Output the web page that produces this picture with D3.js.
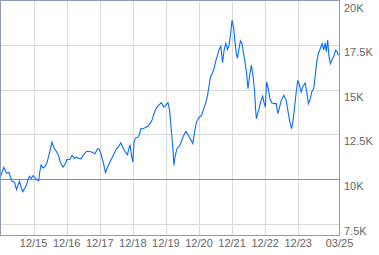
<!DOCTYPE html>
<html><head><meta charset="utf-8">
<script src="https://cdn.jsdelivr.net/npm/d3@7"></script>
<style>body{margin:0;background:#fff}svg{display:block}</style>
</head><body><svg id="c" width="379" height="255"></svg>
<script>
// Dates as decimal years, values in index points
const dates = [2014.917,2015.016,2015.059,2015.098,2015.167,2015.218,2015.269,2015.339,2015.399,2015.438,2015.489,2015.540,2015.589,2015.649,2015.700,2015.739,2015.790,2015.842,2015.902,2015.950,2016.001,2016.071,2016.101,2016.143,2016.203,2016.272,2016.324,2016.402,2016.474,2016.522,2016.604,2016.673,2016.724,2016.805,2016.875,2016.926,2017.004,2017.077,2017.146,2017.206,2017.275,2017.348,2017.426,2017.507,2017.607,2017.688,2017.769,2017.848,2017.899,2017.950,2018.019,2018.088,2018.149,2018.221,2018.321,2018.420,2018.492,2018.553,2018.622,2018.691,2018.751,2018.793,2018.833,2018.872,2018.914,2018.953,2018.992,2019.074,2019.125,2019.155,2019.224,2019.293,2019.375,2019.456,2019.504,2019.555,2019.625,2019.697,2019.775,2019.857,2019.926,2019.977,2020.028,2020.076,2020.128,2020.158,2020.197,2020.257,2020.339,2020.438,2020.519,2020.640,2020.730,2020.790,2020.841,2020.911,2020.992,2021.040,2021.113,2021.173,2021.212,2021.263,2021.312,2021.372,2021.414,2021.474,2021.522,2021.574,2021.625,2021.673,2021.724,2021.775,2021.823,2021.865,2021.914,2021.965,2021.995,2022.046,2022.077,2022.116,2022.167,2022.215,2022.245,2022.296,2022.348,2022.396,2022.447,2022.498,2022.546,2022.597,2022.628,2022.649,2022.697,2022.718,2022.778,2022.839,2022.878,2022.920,2022.959,2023.019,2023.059,2023.119,2023.200,2023.251,2023.299,2023.351,2023.402,2023.480,2023.553,2023.601,2023.652,2023.712,2023.751,2023.802,2023.854,2023.902,2023.953,2024.004,2024.052,2024.125,2024.173,2024.224,2024.284,2024.324,2024.384,2024.426,2024.474,2024.525,2024.585,2024.637,2024.685,2024.727,2024.766,2024.806,2024.848,2024.887,2024.938,2024.986,2025.047,2025.089,2025.128];
const values = [10130,10653,10467,10299,10372,10091,9849,9809,9399,9624,9866,9528,9286,9472,9663,9905,10147,10034,10186,10091,9961,9905,10372,10788,10619,10709,10934,11497,12059,11778,11536,11311,10934,10653,10844,11086,11086,11311,11159,11215,11159,11125,11350,11536,11536,11497,11407,11688,11648,11407,10934,10355,10653,10934,11311,11688,11834,12025,11721,11497,11350,11688,11913,11350,10934,12059,12284,12340,12531,12813,12813,12886,12959,13150,13336,13656,13971,14123,14275,14027,14162,14275,13842,12813,11688,10749,11311,11721,11873,12380,12661,12295,11986,12717,13184,13431,13561,13842,14219,14685,15152,15715,15906,16187,16558,16935,17255,17441,16513,17216,17593,17255,17497,18060,18903,18437,17779,17031,16749,17216,17739,17593,17216,16654,15996,15062,15810,16373,15810,14871,13842,13375,13746,13842,14309,14629,14309,14027,15433,14967,14500,14252,14219,14219,13656,14027,14404,14685,14404,13842,13279,12813,13184,13937,14871,15529,15248,14871,15152,15377,14871,14219,14500,14871,15062,15715,16558,17031,17312,17593,17216,17627,17121,17779,16839,16468,16693,16839,17216,17121,16935];
const yTicks = [7500,10000,12500,15000,17500,20000];
const yTickLabels = ["7.5K","10K","12.5K","15K","17.5K","20K"];
const xTickDates = ["2015-12-01","2016-12-01","2017-12-01","2018-12-01","2019-12-01","2020-12-01","2021-12-01","2022-12-01","2023-12-01","2025-03-01"];
const xTickLabels = ["12/15","12/16","12/17","12/18","12/19","12/20","12/21","12/22","12/23","03/25"];
const baseline = 10000;

function decToDate(t){const y=Math.floor(t);const s=new Date(y,0,1);return new Date(s.getTime()+(t-y)*365.25*864e5);}
const data = dates.map((t,i)=>({d:decToDate(t),v:values[i]}));
const parse = d3.timeParse("%Y-%m-%d");

const svg = d3.select("#c");
const L=0.5,R=339.5,T=0.5,B=235.5;
const x = d3.scaleTime().domain([parse("2014-12-01"),parse("2025-03-01")]).range([L,R]);
const y = d3.scaleLinear().domain([7500,20000]).range([223.5,T]);
const font = "Liberation Sans, Arial, sans-serif";

const g = svg.append("g");
// grid
g.selectAll(".vg").data(xTickDates.slice(0,-1)).join("line")
 .attr("x1",d=>Math.round(x(parse(d)))+0.5).attr("x2",d=>Math.round(x(parse(d)))+0.5)
 .attr("y1",T).attr("y2",B).attr("stroke","#dadada").attr("stroke-width",1);
g.selectAll(".hg").data(yTicks.filter(v=>v!==20000&&v!==baseline)).join("line")
 .attr("x1",L).attr("x2",R).attr("y1",d=>Math.round(y(d))+0.5).attr("y2",d=>Math.round(y(d))+0.5)
 .attr("stroke","#dadada").attr("stroke-width",1);
// baseline
g.append("line").attr("x1",L).attr("x2",R).attr("y1",Math.round(y(baseline))+0.5).attr("y2",Math.round(y(baseline))+0.5)
 .attr("stroke","#8c8c8c").attr("stroke-width",1);
// line
g.append("path").datum(data).attr("fill","none").attr("stroke","#0a6cff").attr("stroke-width",1.1)
 .attr("d",d3.line().x(d=>x(d.d)).y(d=>y(d.v)));
// border
g.append("rect").attr("x",L).attr("y",T).attr("width",R-L).attr("height",B-T)
 .attr("fill","none").attr("stroke","#8a9cb8").attr("stroke-width",1);

// y labels
svg.selectAll(".yl").data(yTicks).join("text")
 .attr("x",344).attr("y",(d,i)=>Math.round(y(d))+11).text((d,i)=>yTickLabels[i])
 .attr("font-family",font).attr("font-size",11).attr("fill","#666");
// x labels
svg.selectAll(".xl").data(xTickDates).join("text")
 .attr("x",d=>x(parse(d))).attr("y",247).attr("text-anchor","middle")
 .text((d,i)=>xTickLabels[i]).attr("font-family",font).attr("font-size",11).attr("fill","#666");
</script></body></html>
